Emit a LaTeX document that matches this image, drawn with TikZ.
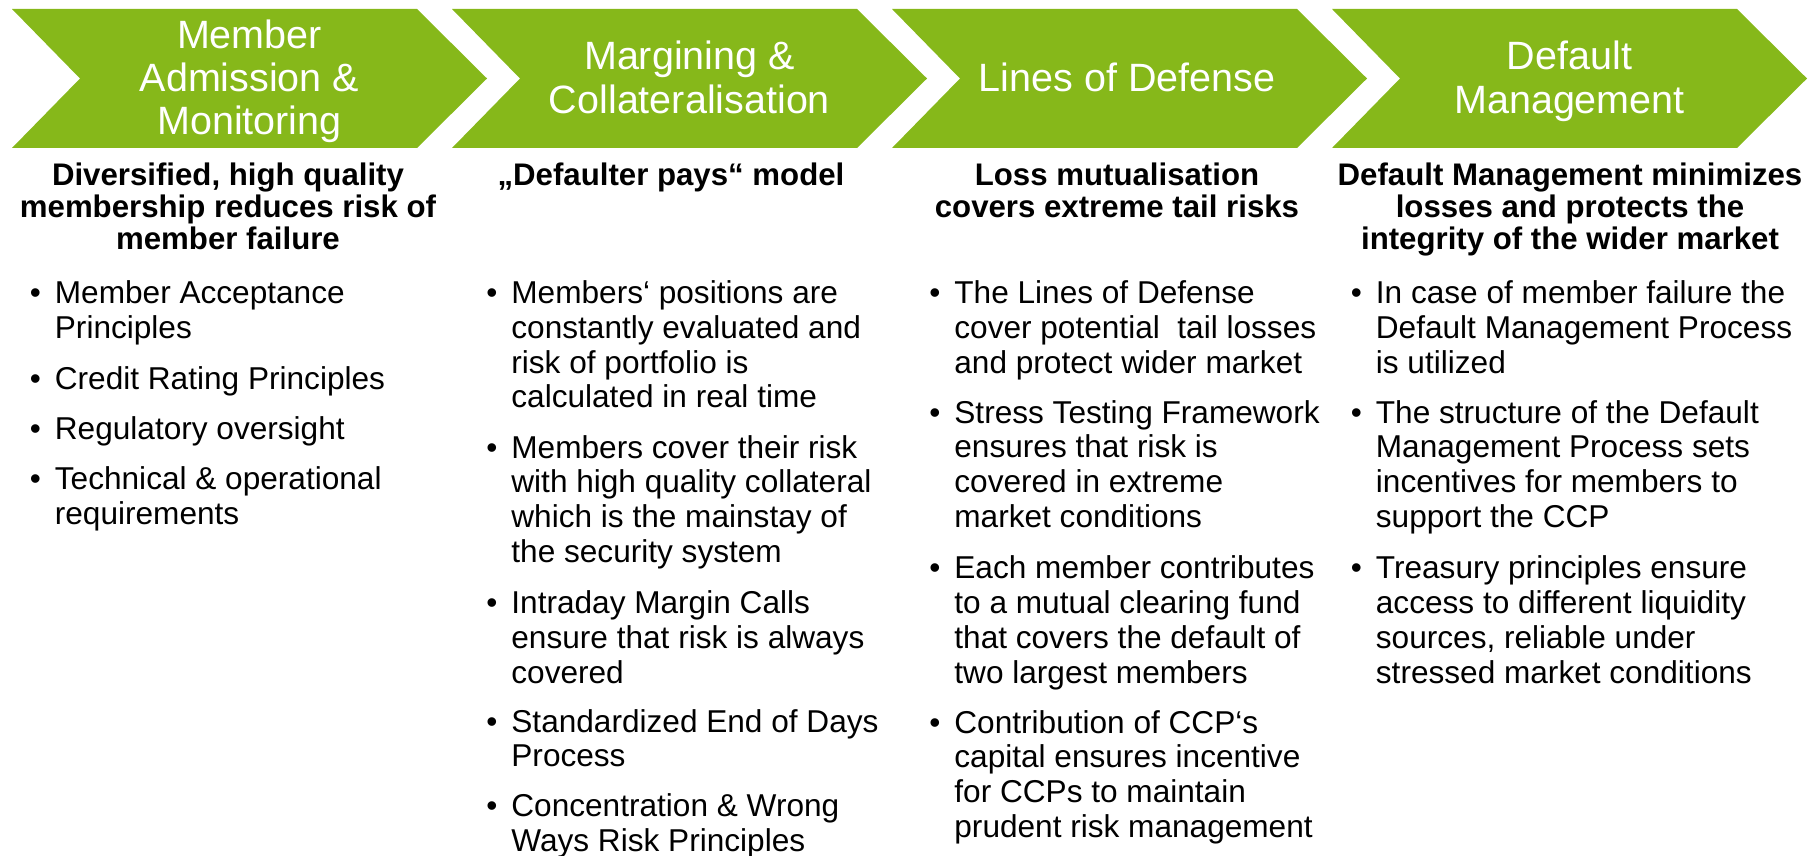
\documentclass[tikz,border=0pt]{standalone}
\usepackage{fontspec}
\setmainfont{Liberation Sans}
\definecolor{chev}{RGB}{134,184,26}
\newcommand{\centtab}[1]{\begin{tabular}[t]{@{}c@{}}#1\end{tabular}}
\newcommand{\lefttab}[1]{\begin{tabular}[t]{@{}l@{}}#1\end{tabular}}
\tikzset{
  chevfill/.style={fill=chev, draw=none},
  chevtext/.style={anchor=base, inner sep=0pt, text=white, font=\fontsize{19.75}{21.5}\selectfont},
  headtext/.style={anchor=base, inner sep=0pt, font=\fontsize{15.6}{15.75}\selectfont\bfseries},
  itemtext/.style={anchor=base west, inner sep=0pt, font=\fontsize{15.8}{17.4}\selectfont},
  bul/.style={anchor=base, inner sep=0pt, font=\fontsize{15.8}{17.4}\selectfont}
}
\newcommand{\bitem}[4]{%
  \node[bul] (#1b) at ({#2-19},#3) {\textbullet};
  \node[itemtext] (#1) at (#2,#3) {\lefttab{#4}};}
\begin{document}
\begin{tikzpicture}[x=0.5pt,y=-0.5pt]
\useasboundingbox (0,0) rectangle (1820,856);
\foreach \k in {0,1,2,3}{
  \path[chevfill] ({12+440*\k},9) -- ({417+440*\k},9) -- ({487+440*\k},78.5)
     -- ({417+440*\k},148) -- ({12+440*\k},148) -- ({80+440*\k},78.5) -- cycle;
}
% chevron titles
\node[chevtext] (h1) at (249.5,49) {\centtab{Member\\Admission \&\\Monitoring}};
\node[chevtext] (h2) at (689.5,70) {\centtab{Margining \&\\Collateralisation}};
\node[chevtext] (h3) at (1127,92) {Lines of Defense};
\node[chevtext] (h4) at (1569.5,70) {\centtab{Default\\Management}};
% column headers
\node[headtext] (t1) at (228,185) {\centtab{Diversified, high quality\\membership reduces risk of\\member failure}};
\node[headtext] (t2) at (671,185) {„Defaulter pays“ model};
\node[headtext] (t3) at (1117,185) {\centtab{Loss mutualisation\\covers extreme tail risks}};
\node[headtext] (t4) at (1570,185) {\centtab{Default Management minimizes\\losses and protects the\\integrity of the wider market}};
% column 1
\bitem{a1}{54.5}{303.5}{Member Acceptance\\Principles}
\bitem{a2}{54.5}{389.4}{Credit Rating Principles}
\bitem{a3}{54.5}{439.3}{Regulatory oversight}
\bitem{a4}{54.5}{489.2}{Technical \& operational\\requirements}
% column 2
\bitem{b1}{511}{303.5}{Members‘ positions are\\constantly evaluated and\\risk of portfolio is\\calculated in real time}
\bitem{b2}{511}{458}{Members cover their risk\\with high quality collateral\\which is the mainstay of\\the security system}
\bitem{b3}{511}{613.5}{Intraday Margin Calls\\ensure that risk is always\\covered}
\bitem{b4}{511}{732}{Standardized End of Days\\Process}
\bitem{b5}{511}{816.5}{Concentration \& Wrong\\Ways Risk Principles}
% column 3
\bitem{c1}{954}{303.5}{The Lines of Defense\\cover potential~ tail losses\\and protect wider market}
\bitem{c2}{954}{423}{Stress Testing Framework\\ensures that risk is\\covered in extreme\\market conditions}
\bitem{c3}{954}{578.6}{Each member contributes\\to a mutual clearing fund\\that covers the default of\\two largest members}
\bitem{c4}{954}{733}{Contribution of CCP‘s\\capital ensures incentive\\for CCPs to maintain\\prudent risk management}
% column 4
\bitem{d1}{1375.5}{303.5}{In case of member failure the\\Default Management Process\\is utilized}
\bitem{d2}{1375.5}{423}{The structure of the Default\\Management Process sets\\incentives for members to\\support the CCP}
\bitem{d3}{1375.5}{578.6}{Treasury principles ensure\\access to different liquidity\\sources, reliable under\\stressed market conditions}
\end{tikzpicture}
\end{document}
